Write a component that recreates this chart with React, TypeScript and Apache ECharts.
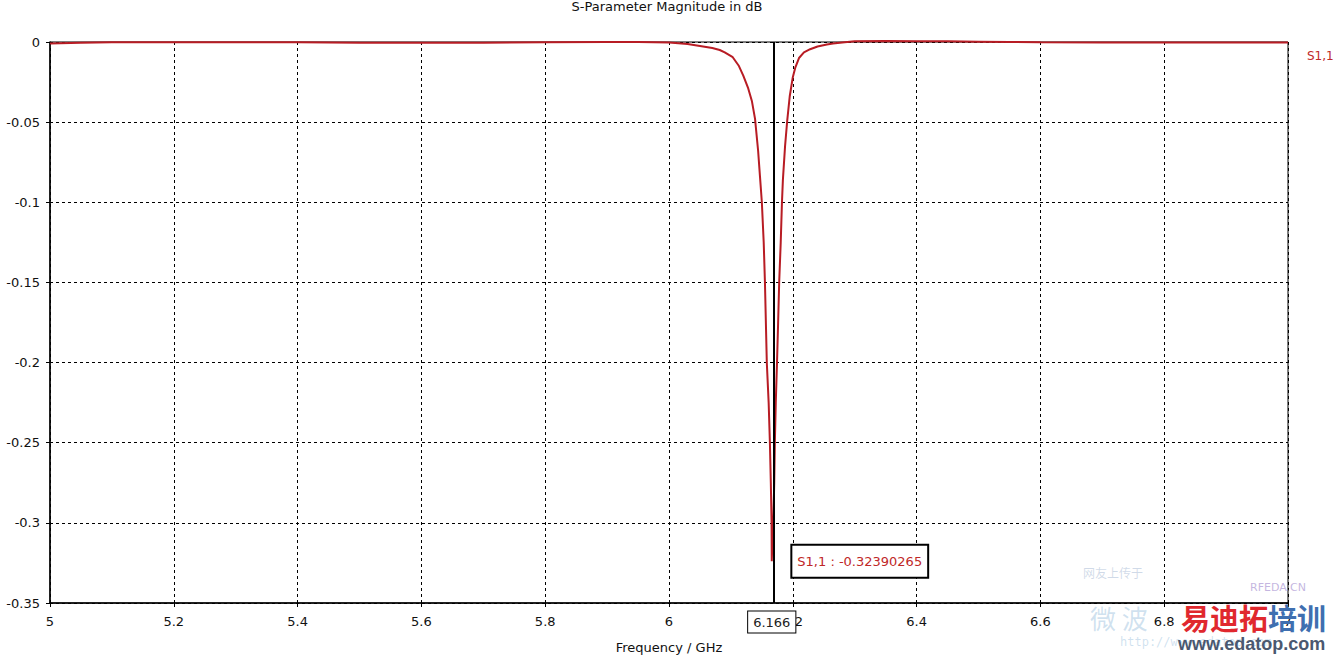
import React, { useEffect, useRef } from "react";
import * as echarts from "echarts";

const FONT = "'DejaVu Sans', Verdana, sans-serif";

const freqGHz = [
  5.0, 5.05, 5.1, 5.2, 5.3, 5.4, 5.5, 5.6, 5.7, 5.8, 5.9, 5.95, 6.0, 6.03, 6.05,
  6.07, 6.082, 6.09, 6.103, 6.113, 6.12, 6.128, 6.134, 6.139, 6.144, 6.147, 6.15,
  6.153, 6.155, 6.158, 6.161, 6.163, 6.1645, 6.1657, 6.166, 6.1672, 6.1685, 6.17,
  6.171, 6.1725, 6.1745, 6.1763, 6.178, 6.1805, 6.1825, 6.184, 6.1875, 6.191,
  6.195, 6.2, 6.204, 6.21, 6.218, 6.228, 6.24, 6.255, 6.265, 6.28, 6.3, 6.35, 6.4,
  6.45, 6.5, 6.55, 6.6, 6.7, 6.8, 6.9, 7.0,
];
const s11dB = [
  -0.0009, -0.0004, -0.0002, -0.0002, -0.0002, -0.0002, -0.0005, -0.0005, -0.0004,
  -0.0002, 0.0, 0.0, -0.0003, -0.0012, -0.0025, -0.0038, -0.005, -0.0065, -0.0095,
  -0.015, -0.021, -0.029, -0.037, -0.048, -0.068, -0.084, -0.1, -0.125, -0.15, -0.2,
  -0.225, -0.25, -0.275, -0.3, -0.3239, -0.31, -0.3, -0.275, -0.25, -0.225, -0.2,
  -0.175, -0.15, -0.125, -0.1, -0.086, -0.065, -0.049, -0.034, -0.022, -0.016,
  -0.01, -0.0065, -0.0045, -0.0028, -0.0015, -0.001, -0.0003, 0.0004, 0.0006,
  0.0005, 0.0004, 0.0002, 0.0, -0.0002, -0.0003, -0.0003, -0.0003, -0.0003,
];

const seriesName = "S1,1";
const markerFreq = 6.166;
const markerValue = -0.32390265;
const markerFreqText = "6.166";
const markerValueText = "-0.32390265";

const xMin = 5;
const xMax = 7;
const xStep = 0.2;
const yMin = -0.35;
const yMax = 0;
const yStep = 0.05;

export default function App() {
  const ref = useRef<HTMLDivElement>(null);

  useEffect(() => {
    if (!ref.current) return;
    const chart = echarts.init(ref.current, undefined, { renderer: "svg" });
    const textBase = { fontFamily: FONT, fontSize: 12, color: "#111" };
    const tickText = { fontFamily: FONT, fontSize: 13, color: "#111" };
    const data = freqGHz.map((f, i) => [f, s11dB[i]]);

    chart.setOption({
      animation: false,
      backgroundColor: "#fff",
      title: {
        text: "S-Parameter Magnitude in dB",
        left: "center",
        top: 0,
        padding: 0,
        textStyle: { ...textBase, fontSize: 13, fontWeight: "normal" },
      },
      legend: {
        left: 1302,
        top: 49,
        padding: 0,
        itemWidth: 0,
        itemGap: 0,
        selectedMode: false,
        data: [{ name: seriesName, icon: "none" }],
        textStyle: { fontFamily: FONT, fontSize: 12, color: "#c02828", padding: 0 },
      },
      grid: {
        left: 50,
        right: 46,
        top: 42,
        bottom: 54,
        show: true,
        borderColor: "#000",
        borderWidth: 1,
        containLabel: false,
        outerBoundsMode: "none",
      },
      xAxis: {
        type: "value",
        min: xMin,
        max: xMax,
        interval: xStep,
        name: "Frequency / GHz",
        nameLocation: "middle",
        nameGap: 38,
        nameTextStyle: { ...textBase, fontSize: 13 },
        axisLine: { show: true, onZero: false, lineStyle: { color: "#000", width: 1.5 } },
        axisTick: { show: true, length: 4, lineStyle: { color: "#000" } },
        axisLabel: { ...tickText, margin: 12 },
        splitLine: { show: true, lineStyle: { color: "#000", type: [3, 3], width: 1 } },
      },
      yAxis: {
        type: "value",
        min: yMin,
        max: yMax,
        interval: yStep,
        axisLine: { show: true, onZero: false, lineStyle: { color: "#000", width: 1.5 } },
        axisTick: { show: true, length: 4, lineStyle: { color: "#000" } },
        axisLabel: { ...tickText, margin: 10 },
        splitLine: { show: true, lineStyle: { color: "#000", type: [3, 3], width: 1 } },
      },
      series: [
        {
          name: seriesName,
          type: "line",
          data,
          showSymbol: false,
          clip: false,
          lineStyle: { color: "#b81c24", width: 2 },
          itemStyle: { color: "#b81c24" },
          z: 3,
          markLine: {
            silent: true,
            symbol: "none",
            label: { show: false },
            lineStyle: { color: "#000", width: 2, type: "solid" },
            data: [{ xAxis: markerFreq }],
            z: 4,
          },
          markPoint: {
            silent: true,
            z: 6,
            data: [
              {
                coord: [markerFreq, markerValue],
                symbol: "circle",
                symbolSize: 0,
                label: {
                  show: true,
                  position: "inside",
                  offset: [88, 0],
                  align: "center",
                  verticalAlign: "middle",
                  formatter: `${seriesName} : ${markerValueText}`,
                  fontFamily: FONT,
                  fontSize: 13,
                  lineHeight: 15,
                  color: "#c02828",
                  backgroundColor: "#fff",
                  borderColor: "#000",
                  borderWidth: 2,
                  padding: [8, 5, 8, 5],
                },
              },
              {
                coord: [markerFreq, yMin],
                symbol: "circle",
                symbolSize: 0,
                label: {
                  show: true,
                  position: "inside",
                  offset: [0, 19],
                  align: "center",
                  verticalAlign: "middle",
                  formatter: markerFreqText,
                  fontFamily: FONT,
                  fontSize: 13,
                  lineHeight: 15,
                  color: "#222",
                  backgroundColor: "#fff",
                  borderColor: "#000",
                  borderWidth: 1,
                  padding: [3, 5, 3, 5],
                },
              },
            ],
          },
        },
      ],
      graphic: [
        {
          type: "text",
          left: 1083,
          top: 566,
          z: 10,
          style: { text: "网友上传于", fontSize: 12, fill: "rgba(120,150,190,0.35)", fontFamily: "'Noto Sans CJK SC'" },
        },
        {
          type: "text",
          left: 1250,
          top: 582,
          z: 10,
          style: { text: "RFEDA.CN", fontSize: 11, fill: "rgba(170,150,210,0.7)", fontFamily: FONT },
        },
        {
          type: "text",
          left: 1090,
          top: 604,
          z: 10,
          style: { text: "微 波", fontSize: 26, fill: "rgba(120,170,210,0.35)", fontFamily: "'Noto Sans CJK SC'" },
        },
        {
          type: "text",
          left: 1120,
          top: 636,
          z: 10,
          style: { text: "http://www.edatop.com", fontSize: 12, fill: "rgba(120,170,210,0.35)", fontFamily: "'DejaVu Sans Mono'" },
        },
        {
          type: "text",
          left: 1181,
          top: 602,
          z: 11,
          style: {
            text: "{r|易迪拓}{b|培训}",
            rich: {
              r: { fontSize: 29, fontWeight: "bold", fill: "#e0282e", color: "#e0282e", fontFamily: "'Noto Sans CJK SC'" },
              b: { fontSize: 29, fontWeight: "bold", fill: "#3f6fb0", color: "#3f6fb0", fontFamily: "'Noto Sans CJK SC'" },
            },
          },
        },
        {
          type: "text",
          left: 1178,
          top: 635,
          z: 11,
          style: { text: "www.edatop.com", fontSize: 18, fontWeight: "bold", fill: "#4a5870", fontFamily: "'Liberation Sans', Arial, sans-serif" },
        },
      ],
    });

    return () => chart.dispose();
  }, []);

  return (
    <div
      ref={ref}
      style={{ position: "fixed", left: 0, top: 0, width: 1334, height: 657 }}
    />
  );
}
